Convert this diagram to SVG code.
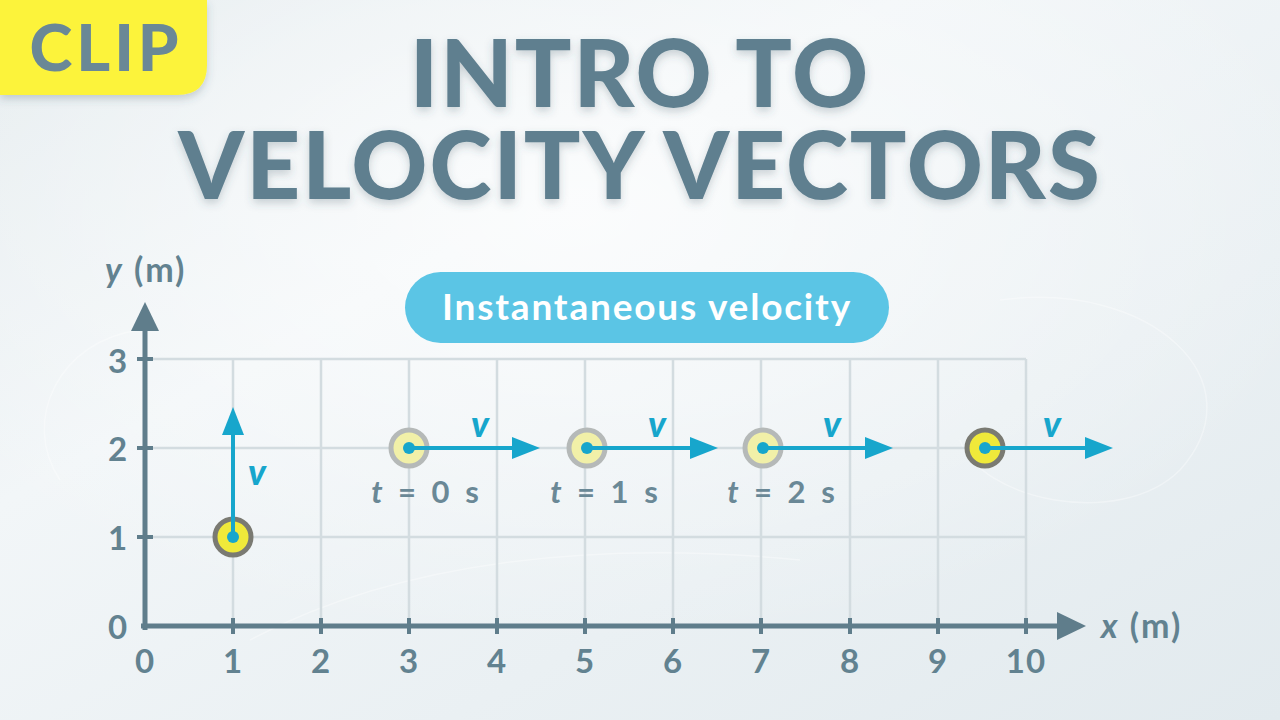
<svg xmlns="http://www.w3.org/2000/svg" width="1280" height="720" viewBox="0 0 1280 720">
<defs>
<linearGradient id="bg" x1="0" y1="0" x2="1" y2="1">
<stop offset="0" stop-color="#e4ebee"/>
<stop offset="0.35" stop-color="#f2f6f8"/>
<stop offset="1" stop-color="#e2eaee"/>
</linearGradient>
<radialGradient id="glow" cx="0.45" cy="0.3" r="0.6">
<stop offset="0" stop-color="#ffffff" stop-opacity="0.7"/>
<stop offset="1" stop-color="#ffffff" stop-opacity="0"/>
</radialGradient>
<filter id="sh" x="-10%" y="-10%" width="130%" height="140%">
<feDropShadow dx="0" dy="4" stdDeviation="4" flood-color="#3a5563" flood-opacity="0.25"/>
</filter>
</defs>
<style>
.title{font-family:Lato,"Liberation Sans",sans-serif;font-weight:900;fill:#5f7f8f;text-anchor:middle;letter-spacing:2px}
.axis{stroke:#5f7d8b;stroke-width:5;fill:none}
.tick{stroke:#5f7d8b;stroke-width:4}
.grid{stroke:#d3dce0;stroke-width:2.5;fill:none}
.num{font-family:Lato,"Liberation Sans",sans-serif;font-weight:700;font-size:33px;fill:#628290;text-anchor:middle;letter-spacing:1px}
.lbl{font-family:Lato,"Liberation Sans",sans-serif;font-weight:700;font-size:34px;fill:#628290;letter-spacing:2px}
.vel{stroke:#17a6cc;stroke-width:4;fill:none}
.head{fill:#17a6cc}
.v{font-family:Lato,"Liberation Sans",sans-serif;font-weight:900;font-style:italic;font-size:36px;fill:#17a6cc;text-anchor:middle}
.ball{fill:#efe93a;stroke:#7a7a72;stroke-width:5}
.ghost{fill:#f1f0a8;stroke:#b5b9b8;stroke-width:5}
.dot{fill:#17a6cc}
.tlbl{font-family:Lato,"Liberation Sans",sans-serif;font-weight:700;font-size:31px;fill:#6a8896;text-anchor:middle;letter-spacing:2px;word-spacing:4px}
</style>
<rect width="1280" height="720" fill="url(#bg)"/>
<rect width="1280" height="720" fill="url(#glow)"/>
<g fill="none" stroke="#ffffff" stroke-opacity="0.35" stroke-width="1.5">
<path d="M1000 300 C1150 280 1260 380 1180 470 C1120 530 980 500 960 440"/>
<path d="M60 480 C20 420 60 340 140 330"/>
<path d="M250 640 C400 560 600 540 800 560"/>
</g>

<g id="clip-badge">
<path d="M0 0 H207 V65 Q207 95 177 95 H0 Z" fill="#fcf33a" filter="url(#sh)"/>
<text x="106" y="71" font-family="Lato,'Liberation Sans',sans-serif" font-weight="900" font-size="65" fill="#6a8896" text-anchor="middle" letter-spacing="4">CLIP</text>
</g>

<g id="title" filter="url(#sh)">
<text class="title" x="640" y="107" font-size="94">INTRO TO</text>
<text class="title" x="640" y="199" font-size="94">VELOCITY VECTORS</text>
</g>

<g id="pill">
<rect x="405" y="272" width="484" height="71" rx="35.5" fill="#5bc5e5"/>
<text x="647" y="320" font-family="Lato,'Liberation Sans',sans-serif" font-weight="700" font-size="37" fill="#ffffff" text-anchor="middle" letter-spacing="1.8">Instantaneous velocity</text>
</g>

<g id="grid">
<path class="grid" d="M145 359 H1026 M145 448 H1026 M145 537 H1026"/>
<path class="grid" d="M233 359 V626 M321 359 V626 M409 359 V626 M497 359 V626 M585 359 V626 M673 359 V626 M761 359 V626 M850 359 V626 M938 359 V626 M1026 359 V626"/>
</g>

<g id="axes">
<line class="axis" x1="145" y1="630" x2="145" y2="328"/>
<polygon points="145,302 131,331 159,331" fill="#5f7d8b"/>
<line class="axis" x1="141" y1="626" x2="1060" y2="626"/>
<polygon points="1086,626 1057,612 1057,640" fill="#5f7d8b"/>
<path class="tick" d="M137 359 H153 M137 448 H153 M137 537 H153"/>
<path class="tick" d="M233 618 V634 M321 618 V634 M409 618 V634 M497 618 V634 M585 618 V634 M673 618 V634 M761 618 V634 M850 618 V634 M938 618 V634 M1026 618 V634"/>
<text class="num" x="118" y="373">3</text>
<text class="num" x="118" y="461">2</text>
<text class="num" x="118" y="550">1</text>
<text class="num" x="118" y="639">0</text>
<text class="num" x="145" y="673">0</text>
<text class="num" x="233" y="673">1</text>
<text class="num" x="321" y="673">2</text>
<text class="num" x="409" y="673">3</text>
<text class="num" x="497" y="673">4</text>
<text class="num" x="585" y="673">5</text>
<text class="num" x="673" y="673">6</text>
<text class="num" x="761" y="673">7</text>
<text class="num" x="850" y="673">8</text>
<text class="num" x="938" y="673">9</text>
<text class="num" x="1026" y="673">10</text>
<text class="lbl" x="105" y="282"><tspan font-style="italic">y</tspan> (m)</text>
<text class="lbl" x="1101" y="638"><tspan font-style="italic">x</tspan> (m)</text>
</g>

<g id="ball-t0">
<circle class="ghost" cx="409" cy="448" r="18"/>
<circle class="dot" cx="409" cy="448" r="6"/>
<text class="tlbl" x="426" y="503"><tspan font-style="italic">t</tspan> = 0 s</text>
</g>
<g id="ball-t1">
<circle class="ghost" cx="587" cy="448" r="18"/>
<circle class="dot" cx="587" cy="448" r="6"/>
<text class="tlbl" x="605" y="503"><tspan font-style="italic">t</tspan> = 1 s</text>
</g>
<g id="ball-t2">
<circle class="ghost" cx="763" cy="448" r="18"/>
<circle class="dot" cx="763" cy="448" r="6"/>
<text class="tlbl" x="782" y="503"><tspan font-style="italic">t</tspan> = 2 s</text>
</g>
<g id="ball-current">
<circle class="ball" cx="985" cy="448" r="18"/>
<circle class="dot" cx="985" cy="448" r="6"/>
</g>
<g id="ball-left">
<circle class="ball" cx="233" cy="537" r="18"/>
<circle class="dot" cx="233" cy="537" r="6"/>
</g>

<g id="connectors">
<line class="vel" x1="409" y1="448" x2="514" y2="448"/>
<polygon class="head" points="540,448 512,437 512,459"/>
<line class="vel" x1="587" y1="448" x2="692" y2="448"/>
<polygon class="head" points="718,448 690,437 690,459"/>
<line class="vel" x1="763" y1="448" x2="867" y2="448"/>
<polygon class="head" points="893,448 865,437 865,459"/>
<line class="vel" x1="985" y1="448" x2="1087" y2="448"/>
<polygon class="head" points="1113,448 1085,437 1085,459"/>
<line class="vel" x1="233" y1="537" x2="233" y2="433"/>
<polygon class="head" points="233,407 222,435 244,435"/>
</g>

<g id="v-labels">
<text class="v" x="480" y="437">v</text>
<text class="v" x="657" y="437">v</text>
<text class="v" x="832" y="437">v</text>
<text class="v" x="1052" y="437">v</text>
<text class="v" x="257" y="485">v</text>
</g>
</svg>
